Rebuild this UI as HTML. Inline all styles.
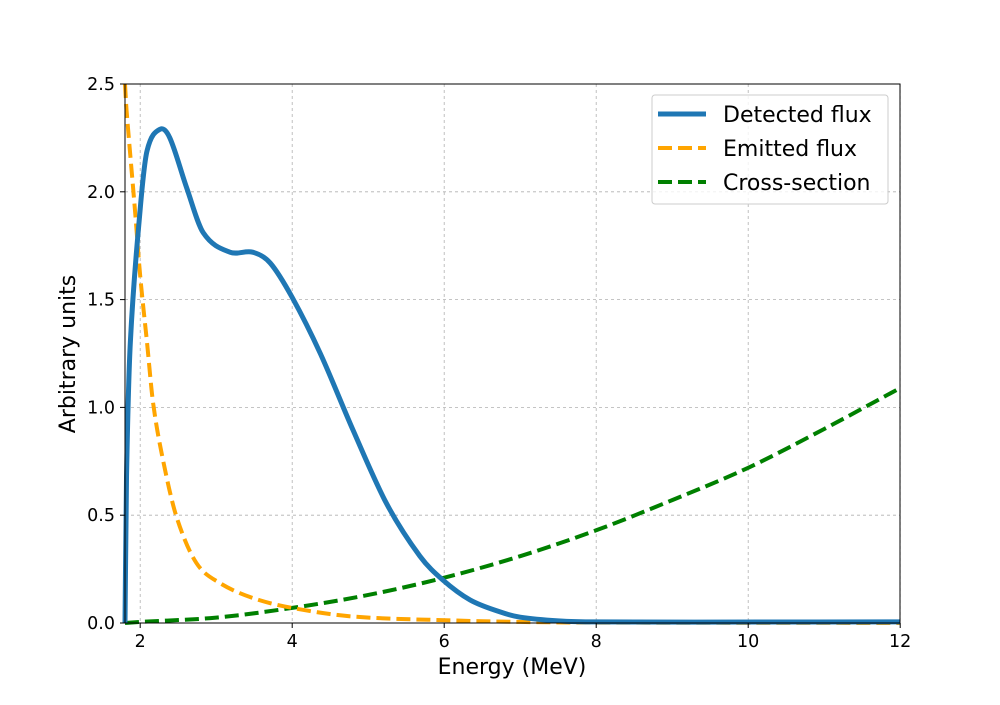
<!DOCTYPE html>
<html><head><meta charset="utf-8"><style>
body{margin:0;background:#fff}
svg text{font-family:"DejaVu Sans","Liberation Sans",sans-serif;fill:#000}
</style></head><body>
<svg id="chart" width="1000" height="700">
<g id="grid"></g>
<g id="series"></g>
<rect x="125" y="84" width="775" height="539" fill="none" stroke="#000" stroke-width="1"/>
<g id="ticks"></g>
<text x="512" y="674" font-size="22" text-anchor="middle">Energy (MeV)</text>
<text x="75" y="354" font-size="22" text-anchor="middle" transform="rotate(-90 75 354)">Arbitrary units</text>
<g>
<rect x="652" y="95" width="236" height="109" rx="3" fill="#fff" fill-opacity="0.8" stroke="#ccc"/>
<line x1="658" y1="114" x2="706" y2="114" stroke="#1f77b4" stroke-width="5"/>
<text x="723" y="122" font-size="22">Detected flux</text>
<line x1="658" y1="148" x2="706" y2="148" stroke="orange" stroke-width="4" stroke-dasharray="14,6"/>
<text x="723" y="156" font-size="22">Emitted flux</text>
<line x1="658" y1="182" x2="706" y2="182" stroke="green" stroke-width="4" stroke-dasharray="14,6"/>
<text x="723" y="190" font-size="22">Cross-section</text>
</g>
</svg>
<script>
const detX=[1.8,1.82,1.87,2.0,2.09,2.26,2.39,2.61,2.83,3.18,3.48,3.71,4.0,4.37,4.8,5.24,5.68,5.98,6.34,6.73,7.0,7.5,8,12];
const detY=[0,0.68,1.30,1.92,2.19,2.29,2.25,2.02,1.81,1.72,1.72,1.67,1.51,1.25,0.895,0.555,0.31,0.20,0.107,0.052,0.027,0.01,0.005,0.005];
const emiX=[1.8,1.82,1.93,2.0,2.09,2.17,2.30,2.48,2.74,3.05,3.48,4.0,4.8,6.1,7,8,12];
const emiY=[2.5,2.38,1.92,1.61,1.30,1.02,0.756,0.49,0.278,0.185,0.116,0.07,0.03,0.012,0.005,0.002,0];
const crsX=[1.8,2,3,4,5,6,7,8,9,10,11,12];
const crsY=[0,0.005,0.025,0.07,0.13,0.21,0.31,0.43,0.57,0.72,0.9,1.09];
const xTicks=[2,4,6,8,10,12];
const yTicks=[0,0.5,1.0,1.5,2.0,2.5];
const xs=v=>125+(v-1.8)*76, ys=v=>623-v*215.6;
const NS='http://www.w3.org/2000/svg';
const grid=document.getElementById('grid'),ticks=document.getElementById('ticks'),ser=document.getElementById('series');
function mk(t,a,p){const e=document.createElementNS(NS,t);for(const k in a)e.setAttribute(k,a[k]);p.appendChild(e);return e;}
xTicks.forEach(v=>{const x=xs(v);
 const g=mk('line',{x1:x,x2:x,y1:84,y2:623,stroke:'#b0b0b0','stroke-dasharray':'3,3','stroke-width':0.8},grid);
 
 
 const t=mk('line',{x1:x,x2:x,y1:623,y2:628,stroke:'#000'},ticks);
 
 
 const l=mk('text',{x:x,y:647,'font-size':17.5,'text-anchor':'middle'},ticks);l.textContent=v;
 
 });
yTicks.forEach(v=>{const y=ys(v);
 const g=mk('line',{x1:125,x2:900,y1:y,y2:y,stroke:'#b0b0b0','stroke-dasharray':'3,3','stroke-width':0.8},grid);
 
 
 const t=mk('line',{x1:120,x2:125,y1:y,y2:y,stroke:'#000'},ticks);
 
 
 const l=mk('text',{x:115,y:y+6,'font-size':17.5,'text-anchor':'end'},ticks);l.textContent=v.toFixed(1);
 
 });
function path(X,Y){const n=X.length,m=[];
 for(let i=0;i<n;i++){const a=Math.max(0,i-1),b=Math.min(n-1,i+1);m.push((Y[b]-Y[a])/(X[b]-X[a]));}
 let d='M'+xs(X[0])+','+ys(Y[0]);
 for(let i=0;i<n-1;i++){const h=X[i+1]-X[i];
  d+=' C'+xs(X[i]+h/3)+','+ys(Y[i]+m[i]*h/3)+' '+xs(X[i+1]-h/3)+','+ys(Y[i+1]-m[i+1]*h/3)+' '+xs(X[i+1])+','+ys(Y[i+1]);}
 return d;}
const c=mk('path',{d:path(crsX,crsY),fill:'none',stroke:'green','stroke-width':4,'stroke-dasharray':'14,6'},ser);


const e=mk('path',{d:path(emiX,emiY),fill:'none',stroke:'orange','stroke-width':4,'stroke-dasharray':'14,6'},ser);


const d=mk('path',{d:path(detX,detY),fill:'none',stroke:'#1f77b4','stroke-width':5,'stroke-linejoin':'round'},ser);


</script>
</body></html>
